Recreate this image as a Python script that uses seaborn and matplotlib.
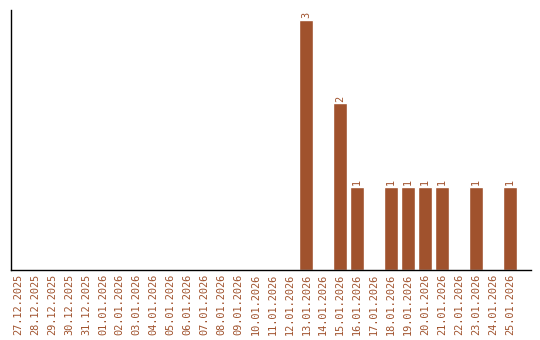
import matplotlib
matplotlib.use("Agg")
import matplotlib.pyplot as plt
import seaborn as sns
import pandas as pd

dates = ["27.12.2025", "28.12.2025", "29.12.2025", "30.12.2025", "31.12.2025",
         "01.01.2026", "02.01.2026", "03.01.2026", "04.01.2026", "05.01.2026",
         "06.01.2026", "07.01.2026", "08.01.2026", "09.01.2026", "10.01.2026",
         "11.01.2026", "12.01.2026", "13.01.2026", "14.01.2026", "15.01.2026",
         "16.01.2026", "17.01.2026", "18.01.2026", "19.01.2026", "20.01.2026",
         "21.01.2026", "22.01.2026", "23.01.2026", "24.01.2026", "25.01.2026"]
counts = [0, 0, 0, 0, 0, 0, 0, 0, 0, 0, 0, 0, 0, 0, 0, 0, 0,
          3, 0, 2, 1, 0, 1, 1, 1, 1, 0, 1, 0, 1]

color = "#A0522D"
df = pd.DataFrame({"date": dates, "count": counts})

sns.set_style("white")
fig = plt.figure(figsize=(5.4, 3.4), dpi=100)
ax = fig.add_axes([11/540, 70/340, (531-11)/540, 260/340])
sns.barplot(data=df, x="date", y="count", color=color, width=0.83,
            saturation=1, ax=ax, order=dates)

for i, v in enumerate(counts):
    if v > 0:
        ax.text(i, v + 0.02, str(v), rotation=90, ha="center", va="bottom",
                fontsize=7.4, family="DejaVu Sans Mono", color=color)

ax.set_xlim(-0.42, 30.25)
ax.set_ylim(0, 3.12)
ax.set_xlabel("")
ax.set_ylabel("")
ax.set_yticks([])
ax.tick_params(axis="x", length=0, pad=3, labelrotation=90, labelsize=7.4,
               labelcolor=color)
for lab in ax.get_xticklabels():
    lab.set_family("DejaVu Sans Mono")
for s in ["top", "right"]:
    ax.spines[s].set_visible(False)
for s in ["left", "bottom"]:
    ax.spines[s].set_color("black")
    ax.spines[s].set_linewidth(1.0)

fig.savefig("out.png", dpi=100)
